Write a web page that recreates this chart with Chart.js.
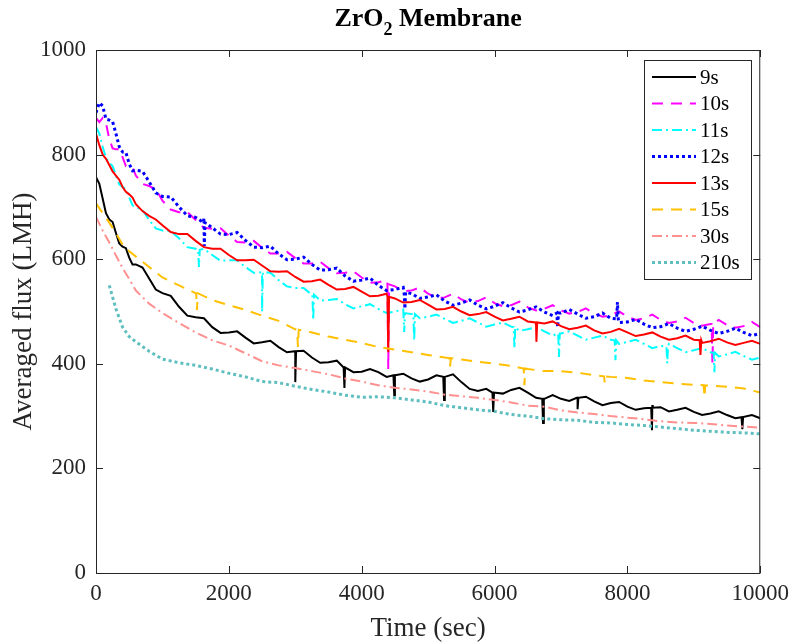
<!DOCTYPE html>
<html>
<head>
<meta charset="utf-8">
<title>ZrO2 Membrane</title>
<script src="https://cdn.jsdelivr.net/npm/chart.js@4.4.0/dist/chart.umd.min.js"></script>
<style>
  html, body { margin: 0; padding: 0; background: #fff; }
</style>
</head>
<body>
<canvas id="fluxChart" width="796" height="643"></canvas>
<script>
// sample times (sec)
const times = [0, 100, 200, 300, 400, 500, 600, 800, 1000, 1250, 1500, 1750, 2000, 2250, 2500, 2750,
  3000, 3250, 3500, 3750, 4000, 4250, 4500, 4750, 5000, 5250, 5500, 5750, 6000, 6250, 6500, 6750,
  7000, 7250, 7500, 7750, 8000, 8250, 8500, 8750, 9000, 9250, 9500, 9750, 10000];
// in-between times, used for the noisy runs
const midTimes = [50, 150, 250, 350, 450, 550, 700, 900, 1125, 1375, 1625, 1875, 2125, 2375, 2625, 2875,
  3125, 3375, 3625, 3875, 4125, 4375, 4625, 4875, 5125, 5375, 5625, 5875, 6125, 6375, 6625, 6875,
  7125, 7375, 7625, 7875, 8125, 8375, 8625, 8875, 9125, 9375, 9625, 9875];

const seriesNames = ['9s', '10s', '11s', '12s', '13s', '15s', '30s', '210s'];

// averaged flux (LMH) for each series at the times above
const flux9s = [757, 716, 676, 650, 624, 603, 590, 563, 535, 509, 489, 470, 460, 450, 441, 432,
  424, 412, 403, 393, 385, 384, 378, 372, 370, 375, 365, 348, 345, 350, 345, 333,
  333, 335, 328, 325, 318, 315, 317, 312, 308, 305, 302, 298, 296];
const flux10s = [870, 870, 830, 810, 795, 776, 760, 740, 712, 690, 675, 658, 645, 632, 622, 611,
  602, 592, 583, 574, 565, 556, 548, 540, 534, 527, 523, 520, 516, 512, 508, 505,
  502, 499, 496, 493, 490, 487, 484, 481, 478, 476, 474, 472, 470];
const flux11s = [853, 815, 784, 760, 738, 718, 700, 675, 655, 640, 620, 608, 598, 585, 575, 560,
  545, 532, 522, 514, 510, 505, 500, 495, 490, 486, 482, 479, 475, 471, 466, 462,
  458, 454, 450, 446, 442, 438, 434, 430, 426, 422, 418, 415, 412];
const flux12s = [880, 893, 866, 840, 805, 782, 770, 748, 720, 700, 680, 660, 647, 636, 622, 610,
  600, 590, 580, 568, 560, 550, 542, 534, 528, 520, 516, 512, 510, 507, 503, 499,
  497, 495, 490, 487, 480, 476, 471, 468, 466, 464, 462, 460, 458];
const flux13s = [840, 800, 780, 760, 738, 724, 705, 683, 665, 648, 635, 620, 608, 598, 588, 576,
  566, 558, 551, 543, 538, 530, 525, 518, 513, 505, 500, 495, 490, 486, 481, 477,
  472, 469, 464, 461, 460, 456, 452, 449, 446, 443, 441, 440, 438];
const flux15s = [707, 688, 670, 650, 628, 615, 605, 585, 565, 550, 535, 522, 512, 503, 492, 482,
  466, 460, 452, 446, 440, 432, 427, 422, 417, 412, 408, 404, 400, 396, 390, 386,
  386, 383, 378, 375, 373, 368, 365, 362, 360, 358, 356, 353, 345];
const flux30s = [681, 655, 632, 607, 583, 562, 540, 515, 497, 478, 460, 445, 435, 420, 405, 397,
  392, 386, 380, 372, 366, 359, 354, 351, 347, 341, 338, 335, 331, 326, 320, 318,
  311, 307, 304, 300, 297, 294, 290, 288, 287, 285, 282, 280, 278];
const flux210s = [null, null, 550, 505, 470, 452, 442, 424, 409, 402, 397, 390, 382, 375, 366, 364,
  357, 351, 346, 340, 336, 337, 335, 331, 327, 320, 316, 312, 309, 303, 300, 295,
  293, 292, 288, 287, 284, 282, 279, 276, 273, 271, 269, 268, 266];

// flux at the in-between times (the jitter seen on the noisy runs)
const mid9s = [744, 688, 671, 630, 621, 590, 584, 542, 530, 492, 487, 459, 462, 439, 444, 422,
  425, 402, 406, 384, 390, 375, 381, 366, 378, 380, 352, 352, 343, 354, 335, 340,
  329, 337, 321, 327, 312, 321, 309, 316, 302, 309, 296, 302];
const mid10s = [862, 860, 812, 810, 778, 776, 744, 734, 695, 690, 660, 659, 633, 635, 611, 614,
  592, 595, 573, 577, 555, 560, 539, 546, 526, 534, 517, 527, 510, 519, 502, 512,
  496, 506, 490, 500, 484, 494, 478, 488, 473, 484, 469, 480];
const mid11s = [840, 794, 778, 743, 734, 703, 694, 659, 654, 623, 620, 597, 598, 574, 574, 548,
  545, 521, 524, 506, 514, 497, 504, 487, 494, 478, 487, 471, 479, 463, 470, 454,
  462, 446, 454, 438, 446, 430, 438, 422, 430, 414, 423, 408];
const mid12s = [899, 868, 863, 815, 804, 769, 768, 727, 719, 683, 679, 648, 651, 623, 625, 599,
  604, 579, 583, 558, 564, 540, 546, 525, 532, 512, 522, 505, 517, 499, 509, 492,
  504, 487, 497, 479, 485, 469, 477, 462, 472, 458, 468, 454];
const mid13s = [818, 792, 768, 752, 729, 718, 692, 676, 652, 648, 623, 620, 598, 599, 577, 577,
  557, 561, 542, 547, 529, 534, 517, 522, 504, 509, 493, 499, 483, 490, 474, 481,
  466, 473, 458, 467, 453, 460, 446, 454, 440, 448, 436, 444];

// narrow spikes: [time, level around it, spike value]
const spikes9s = [[3000, 424, 365], [3740, 393, 354], [4490, 378, 340], [5240, 375, 331], [5980, 345, 308],
  [6730, 333, 287], [7250, 335, 313], [8370, 316, 273], [9730, 298, 275]];
const spikes10s = [[4400, 552, 390], [9280, 476, 400]];
const spikes11s = [[1550, 618, 585], [2500, 575, 499], [3270, 532, 484], [4640, 497, 461], [4790, 495, 445],
  [6300, 470, 430], [6970, 458, 413], [7820, 445, 407], [8600, 433, 401], [9310, 421, 384]];
const spikes12s = [[1630, 670, 625], [4650, 537, 505], [6950, 497, 470], [7850, 486, 518]];
const spikes13s = [[4400, 528, 422], [6630, 479, 442], [9100, 445, 417]];
const spikes15s = [[1520, 535, 503], [3040, 465, 432], [5330, 411, 394], [6450, 391, 359], [7660, 376, 363],
  [9160, 359, 336]];

const ink = '#262626';
const serif = '"Liberation Serif", "Times New Roman", serif';

function buildSeries(values, mids, spikes) {
  const pts = [];
  times.forEach((t, i) => {
    if (values[i] !== null) pts.push({ x: t, y: values[i] });
  });
  mids.forEach((v, i) => pts.push({ x: midTimes[i], y: v }));
  spikes.forEach(([t, level, v]) => {
    pts.push({ x: t - 12, y: level }, { x: t, y: v }, { x: t + 12, y: level });
  });
  pts.sort((a, b) => a.x - b.x);
  return pts;
}

const styles = [
  { color: '#000000', dash: [], width: 2 },
  { color: '#ff00ff', dash: [11, 8], width: 2 },
  { color: '#00ffff', dash: [10, 4, 2, 4], width: 2 },
  { color: '#0000ff', dash: [3, 3], width: 3 },
  { color: '#ff0000', dash: [], width: 2 },
  { color: '#ffc000', dash: [11, 8], width: 2 },
  { color: '#ff9090', dash: [10, 4, 2, 4], width: 2 },
  { color: '#5fbfbf', dash: [3, 3], width: 3 }
];

const allValues = [flux9s, flux10s, flux11s, flux12s, flux13s, flux15s, flux30s, flux210s];
const allMids = [mid9s, mid10s, mid11s, mid12s, mid13s, [], [], []];
const allSpikes = [spikes9s, spikes10s, spikes11s, spikes12s, spikes13s, spikes15s, [], []];

const datasets = seriesNames.map((name, i) => ({
  label: name,
  data: buildSeries(allValues[i], allMids[i], allSpikes[i]),
  borderColor: styles[i].color,
  borderDash: styles[i].dash,
  borderWidth: styles[i].width,
  pointRadius: 0,
  tension: 0,
  fill: false,
  order: -i
}));

// box, inward ticks, title, axis titles and legend (matlab look)
const matlabFrame = {
  id: 'matlabFrame',
  afterDatasetsDraw(chart) {
    const { ctx, chartArea: a, scales: { x, y } } = chart;
    ctx.save();
    ctx.strokeStyle = ink;
    ctx.lineWidth = 1;
    ctx.setLineDash([]);
    ctx.strokeRect(a.left + 0.5, a.top + 0.5, a.right - a.left - 1, a.bottom - a.top);

    ctx.beginPath();
    x.ticks.forEach(tk => {
      const px = Math.round(x.getPixelForValue(tk.value)) + 0.5;
      ctx.moveTo(px, a.bottom); ctx.lineTo(px, a.bottom - 7);
      ctx.moveTo(px, a.top); ctx.lineTo(px, a.top + 7);
    });
    y.ticks.forEach(tk => {
      const py = Math.round(y.getPixelForValue(tk.value)) + 0.5;
      ctx.moveTo(a.left, py); ctx.lineTo(a.left + 7, py);
      ctx.moveTo(a.right, py); ctx.lineTo(a.right - 7, py);
    });
    ctx.stroke();

    // title with subscript
    ctx.fillStyle = '#000';
    ctx.textBaseline = 'alphabetic';
    const big = 'bold 26px ' + serif, small = 'bold 18px ' + serif;
    ctx.font = big;
    const w1 = ctx.measureText('ZrO').width;
    const w3 = ctx.measureText(' Membrane').width;
    ctx.font = small;
    const w2 = ctx.measureText('2').width;
    const tx = (a.left + a.right) / 2 - (w1 + w2 + w3) / 2;
    ctx.font = big; ctx.textAlign = 'left';
    ctx.fillText('ZrO', tx, 26);
    ctx.font = small;
    ctx.fillText('2', tx + w1, 35);
    ctx.font = big;
    ctx.fillText(' Membrane', tx + w1 + w2, 26);

    // axis titles
    ctx.fillStyle = ink;
    ctx.font = '27px ' + serif;
    ctx.textAlign = 'center';
    ctx.fillText('Time (sec)', (a.left + a.right) / 2, 636);
    ctx.save();
    ctx.translate(31, (a.top + a.bottom) / 2);
    ctx.rotate(-Math.PI / 2);
    ctx.fillText('Averaged flux (LMH)', 0, 0);
    ctx.restore();

    // legend box
    const bx = 644, by = 60, bw = 107, bh = 219;
    ctx.fillStyle = '#fff';
    ctx.fillRect(bx, by, bw, bh);
    ctx.strokeStyle = ink;
    ctx.strokeRect(bx + 0.5, by + 0.5, bw, bh);
    ctx.font = '21px ' + serif;
    ctx.textAlign = 'left';
    ctx.textBaseline = 'middle';
    chart.data.datasets.forEach((ds, i) => {
      const ly = by + 17 + i * 26.5;
      ctx.save();
      ctx.strokeStyle = ds.borderColor;
      ctx.lineWidth = ds.borderWidth;
      ctx.setLineDash(ds.borderDash);
      ctx.beginPath();
      ctx.moveTo(bx + 8, ly);
      ctx.lineTo(bx + 52, ly);
      ctx.stroke();
      ctx.restore();
      ctx.fillStyle = '#000';
      ctx.fillText(ds.label, bx + 56, ly + 1);
    });
    ctx.restore();
  }
};

new Chart(document.getElementById('fluxChart'), {
  type: 'line',
  data: { datasets: datasets },
  options: {
    responsive: false,
    animation: false,
    layout: { padding: { top: 50, right: 31, left: 0, bottom: 0 } },
    plugins: {
      legend: { display: false },
      title: { display: false },
      tooltip: { enabled: false }
    },
    scales: {
      x: {
        type: 'linear',
        min: 0,
        max: 10000,
        grid: { display: false, drawTicks: false },
        border: { display: false },
        ticks: {
          stepSize: 2000,
          padding: 7,
          maxRotation: 0,
          color: ink,
          font: { family: serif, size: 23 },
          callback: v => v
        },
        afterFit: s => { s.height = 70; }
      },
      y: {
        min: 0,
        max: 1000,
        grid: { display: false, drawTicks: false },
        border: { display: false },
        ticks: {
          stepSize: 200,
          padding: 10,
          color: ink,
          font: { family: serif, size: 23 },
          callback: v => v
        },
        afterFit: s => { s.width = 96; }
      }
    }
  },
  plugins: [matlabFrame]
});
</script>
</body>
</html>
